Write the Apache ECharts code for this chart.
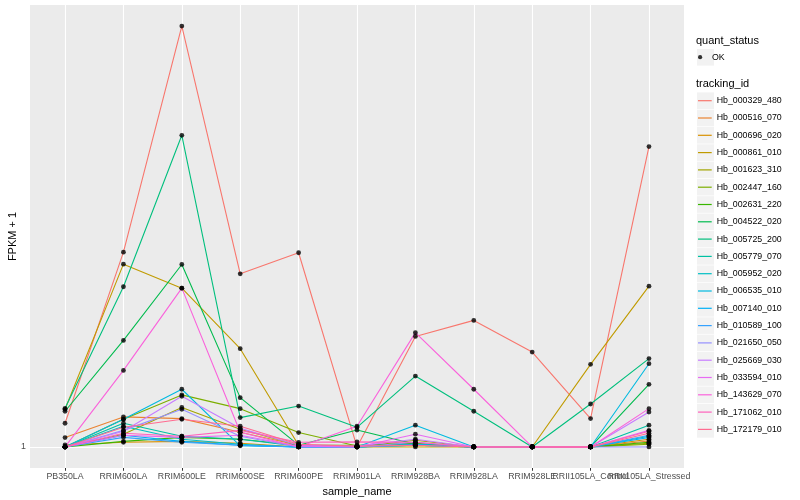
<!DOCTYPE html>
<html><head><meta charset="utf-8">
<script src="https://cdn.jsdelivr.net/npm/echarts@6/dist/echarts.min.js"></script>
<style>html,body{margin:0;padding:0;background:#fff}#c{width:800px;height:500px}</style>
</head><body><div id="c"></div>
<script>
const categories = ['PB350LA','RRIM600LA','RRIM600LE','RRIM600SE','RRIM600PE','RRIM901LA','RRIM928BA','RRIM928LA','RRIM928LE','RRII105LA_Control','RRII105LA_Stressed'];
const trackingIds = ['Hb_000329_480','Hb_000516_070','Hb_000696_020','Hb_000861_010','Hb_001623_310','Hb_002447_160','Hb_002631_220','Hb_004522_020','Hb_005725_200','Hb_005779_070','Hb_005952_020','Hb_006535_010','Hb_007140_010','Hb_010589_100','Hb_021650_050','Hb_025669_030','Hb_033594_010','Hb_143629_070','Hb_171062_010','Hb_172179_010'];
const colors = ['#F8766D','#EA8331','#D89000','#C09B00','#A3A500','#7CAE00','#39B600','#00BB4E','#00BF7D','#00C1A3','#00BFC4','#00BAE0','#00B0F6','#35A2FF','#9590FF','#C77CFF','#E76BF3','#FA62DB','#FF62BC','#FF6C91'];
const yTicks = [1];

// FPKM + 1 per sample, in category order
const hb_000329_480 = [1.128, 2.692, 8.5, 2.412, 2.684, 1.0, 1.754, 1.903, 1.620, 1.155, 4.605];
const hb_000516_070 = [1.049, 1.165, 1.155, 1.078, 1.009, 1.004, 1.019, 1.0, 1.0, 1.0, 1.031];
const hb_000696_020 = [1.01, 1.024, 1.029, 1.019, 1.0, 1.0, 1.009, 1.0, 1.0, 1.0, 1.040];
const hb_000861_010 = [1.211, 2.533, 2.242, 1.648, 1.009, 1.0, 1.0, 1.0, 1.0, 1.522, 2.265];
const hb_001623_310 = [1.0, 1.067, 1.222, 1.094, 1.009, 1.0, 1.035, 1.0, 1.0, 1.0, 1.019];
const hb_002447_160 = [1.0, 1.151, 1.303, 1.215, 1.076, 1.005, 1.014, 1.0, 1.0, 1.0, 1.014];
const hb_002631_220 = [1.0, 1.029, 1.050, 1.040, 1.009, 1.009, 1.019, 1.0, 1.0, 1.0, 1.024];
const hb_004522_020 = [1.199, 1.719, 2.529, 1.285, 1.009, 1.090, 1.014, 1.0, 1.0, 1.0, 1.375];
const hb_005725_200 = [1.217, 2.258, 4.877, 1.161, 1.231, 1.105, 1.434, 1.199, 1.0, 1.244, 1.567];
const hb_005779_070 = [1.0, 1.128, 1.056, 1.040, 1.004, 1.0, 1.014, 1.0, 1.0, 1.0, 1.117];
const hb_005952_020 = [1.0, 1.111, 1.040, 1.014, 1.0, 1.0, 1.009, 1.0, 1.0, 1.0, 1.056];
const hb_006535_010 = [1.0, 1.151, 1.341, 1.006, 1.0, 1.0, 1.117, 1.0, 1.0, 1.0, 1.527];
const hb_007140_010 = [1.0, 1.061, 1.029, 1.009, 1.0, 1.0, 1.014, 1.0, 1.0, 1.0, 1.049];
const hb_010589_100 = [1.0, 1.050, 1.024, 1.009, 1.0, 1.0, 1.009, 1.0, 1.0, 1.0, 1.061];
const hb_021650_050 = [1.0, 1.088, 1.211, 1.056, 1.0, 1.0, 1.024, 1.0, 1.0, 1.0, 1.0];
const hb_025669_030 = [1.0, 1.083, 1.294, 1.100, 1.009, 1.004, 1.040, 1.0, 1.0, 1.0, 1.194];
const hb_033594_010 = [1.0, 1.061, 1.050, 1.061, 1.004, 1.0, 1.067, 1.0, 1.0, 1.0, 1.088];
const hb_143629_070 = [1.0, 1.476, 2.242, 1.078, 1.0, 1.111, 1.788, 1.341, 1.0, 1.0, 1.215];
const hb_171062_010 = [1.0, 1.072, 1.056, 1.088, 1.024, 1.026, 1.024, 1.0, 1.0, 1.0, 1.083];
const hb_172179_010 = [1.0, 1.105, 1.151, 1.111, 1.014, 1.004, 1.009, 1.0, 1.0, 1.0, 1.072];

const seriesValues = [hb_000329_480, hb_000516_070, hb_000696_020, hb_000861_010, hb_001623_310, hb_002447_160, hb_002631_220, hb_004522_020, hb_005725_200, hb_005779_070, hb_005952_020, hb_006535_010, hb_007140_010, hb_010589_100, hb_021650_050, hb_025669_030, hb_033594_010, hb_143629_070, hb_171062_010, hb_172179_010];

const FONT = 'Liberation Sans, Arial, Helvetica, sans-serif';
const dataMax = Math.max(...seriesValues.flat());
const dataMin = Math.min(...seriesValues.flat());
const lmin = Math.log10(dataMin), lmax = Math.log10(dataMax), span = lmax - lmin;
const yMin = Math.pow(10, lmin - 0.05 * span);
const yMax = Math.pow(10, lmax + 0.05 * span);

const series = seriesValues.map((vals, k) => ({
  name: trackingIds[k], type: 'line', data: vals.map((v, i) => [i, v]),
  showSymbol: false, symbol: 'none', color: colors[k],
  lineStyle: { width: 1.1, color: colors[k] }, emphasis: { disabled: true }, z: 2, animation: false
}));
const pts = [];
seriesValues.forEach(vals => vals.forEach((v, i) => pts.push([i, v])));
series.push({ name: 'OK', type: 'scatter', data: pts, symbol: 'circle', symbolSize: 4.8,
  itemStyle: { color: '#000' }, z: 3, animation: false, emphasis: { disabled: true } });

const keyRects = [];
keyRects.push({ type: 'rect', shape: { x: 697, y: 49, width: 17, height: 16.6 }, style: { fill: '#F2F2F2' }, z: 0 });
for (let i = 0; i < trackingIds.length; i++) {
  keyRects.push({ type: 'rect', shape: { x: 697, y: 92.4 + i * 17.3, width: 17, height: 16.6 }, style: { fill: '#F2F2F2' }, z: 0 });
}

const idxAll = categories.map((c, i) => i);
const idxMain = idxAll.filter(i => i !== 9);
const idxExtra = [9];
const xLabel = (vals) => ({ customValues: vals, formatter: v => categories[Math.round(v)] || '', fontFamily: FONT, fontSize: 8.8, color: '#4D4D4D', margin: 4.5, showMinLabel: true, showMaxLabel: true, hideOverlap: false });

const chart = echarts.init(document.getElementById('c'), null, { renderer: 'canvas' });
chart.setOption({
  animation: false,
  backgroundColor: '#fff',
  grid: { left: 30, right: 116, top: 5, bottom: 32, show: true, backgroundColor: '#EBEBEB', borderWidth: 0, containLabel: false, outerBoundsMode: 'none' },
  xAxis: [{
    type: 'value', min: -0.6, max: 10.6, position: 'bottom',
    name: 'sample_name', nameLocation: 'middle', nameGap: 15,
    nameTextStyle: { fontFamily: FONT, fontSize: 11, color: '#000' },
    axisLine: { show: false },
    axisTick: { show: true, length: 2.75, lineStyle: { color: '#333', width: 1 }, customValues: idxAll },
    axisLabel: xLabel(idxMain),
    splitLine: { show: true, lineStyle: { color: '#fff', width: 1.1 } }
  }, {
    type: 'value', min: -0.6, max: 10.6, position: 'bottom', offset: 0,
    axisLine: { show: false },
    axisTick: { show: false, customValues: idxExtra },
    axisLabel: xLabel(idxExtra),
    splitLine: { show: false }
  }],
  yAxis: {
    type: 'log', logBase: 10, min: yMin, max: yMax,
    name: 'FPKM + 1', nameLocation: 'middle', nameGap: 12, nameRotate: 90, nameMoveOverlap: false,
    nameTextStyle: { fontFamily: FONT, fontSize: 11, color: '#000' },
    axisLine: { show: false },
    axisTick: { show: true, length: 2.75, lineStyle: { color: '#333', width: 1 }, customValues: yTicks },
    axisLabel: { customValues: yTicks, formatter: v => String(Math.round(v)), fontFamily: FONT, fontSize: 8.8, color: '#4D4D4D', margin: 4, showMinLabel: true, showMaxLabel: true },
    splitLine: { show: true, lineStyle: { color: '#fff', width: 1.1 } },
    minorSplitLine: { show: false }
  },
  legend: [
    { data: trackingIds, orient: 'vertical', left: 698, top: 92.05, padding: 0, itemGap: 0,
      icon: 'rect', itemWidth: 13.7, itemHeight: 1.2,
      textStyle: { fontFamily: FONT, fontSize: 8.8, color: '#000', lineHeight: 17.3, height: 17.3 },
      selectedMode: false },
    { data: ['OK'], orient: 'vertical', left: 698, top: 48.55, padding: 0, itemGap: 0,
      icon: 'circle', itemWidth: 13.7, itemHeight: 4.2,
      textStyle: { fontFamily: FONT, fontSize: 8.8, color: '#000', lineHeight: 17.3, height: 17.3 },
      selectedMode: false }
  ],
  graphic: [
    ...keyRects,
    { type: 'text', x: 696, y: 40.7, style: { text: 'quant_status', font: '11px ' + FONT, fill: '#000', textVerticalAlign: 'middle' }, z: 1 },
    { type: 'text', x: 696, y: 84, style: { text: 'tracking_id', font: '11px ' + FONT, fill: '#000', textVerticalAlign: 'middle' }, z: 1 }
  ],
  series: series
});
</script></body></html>
